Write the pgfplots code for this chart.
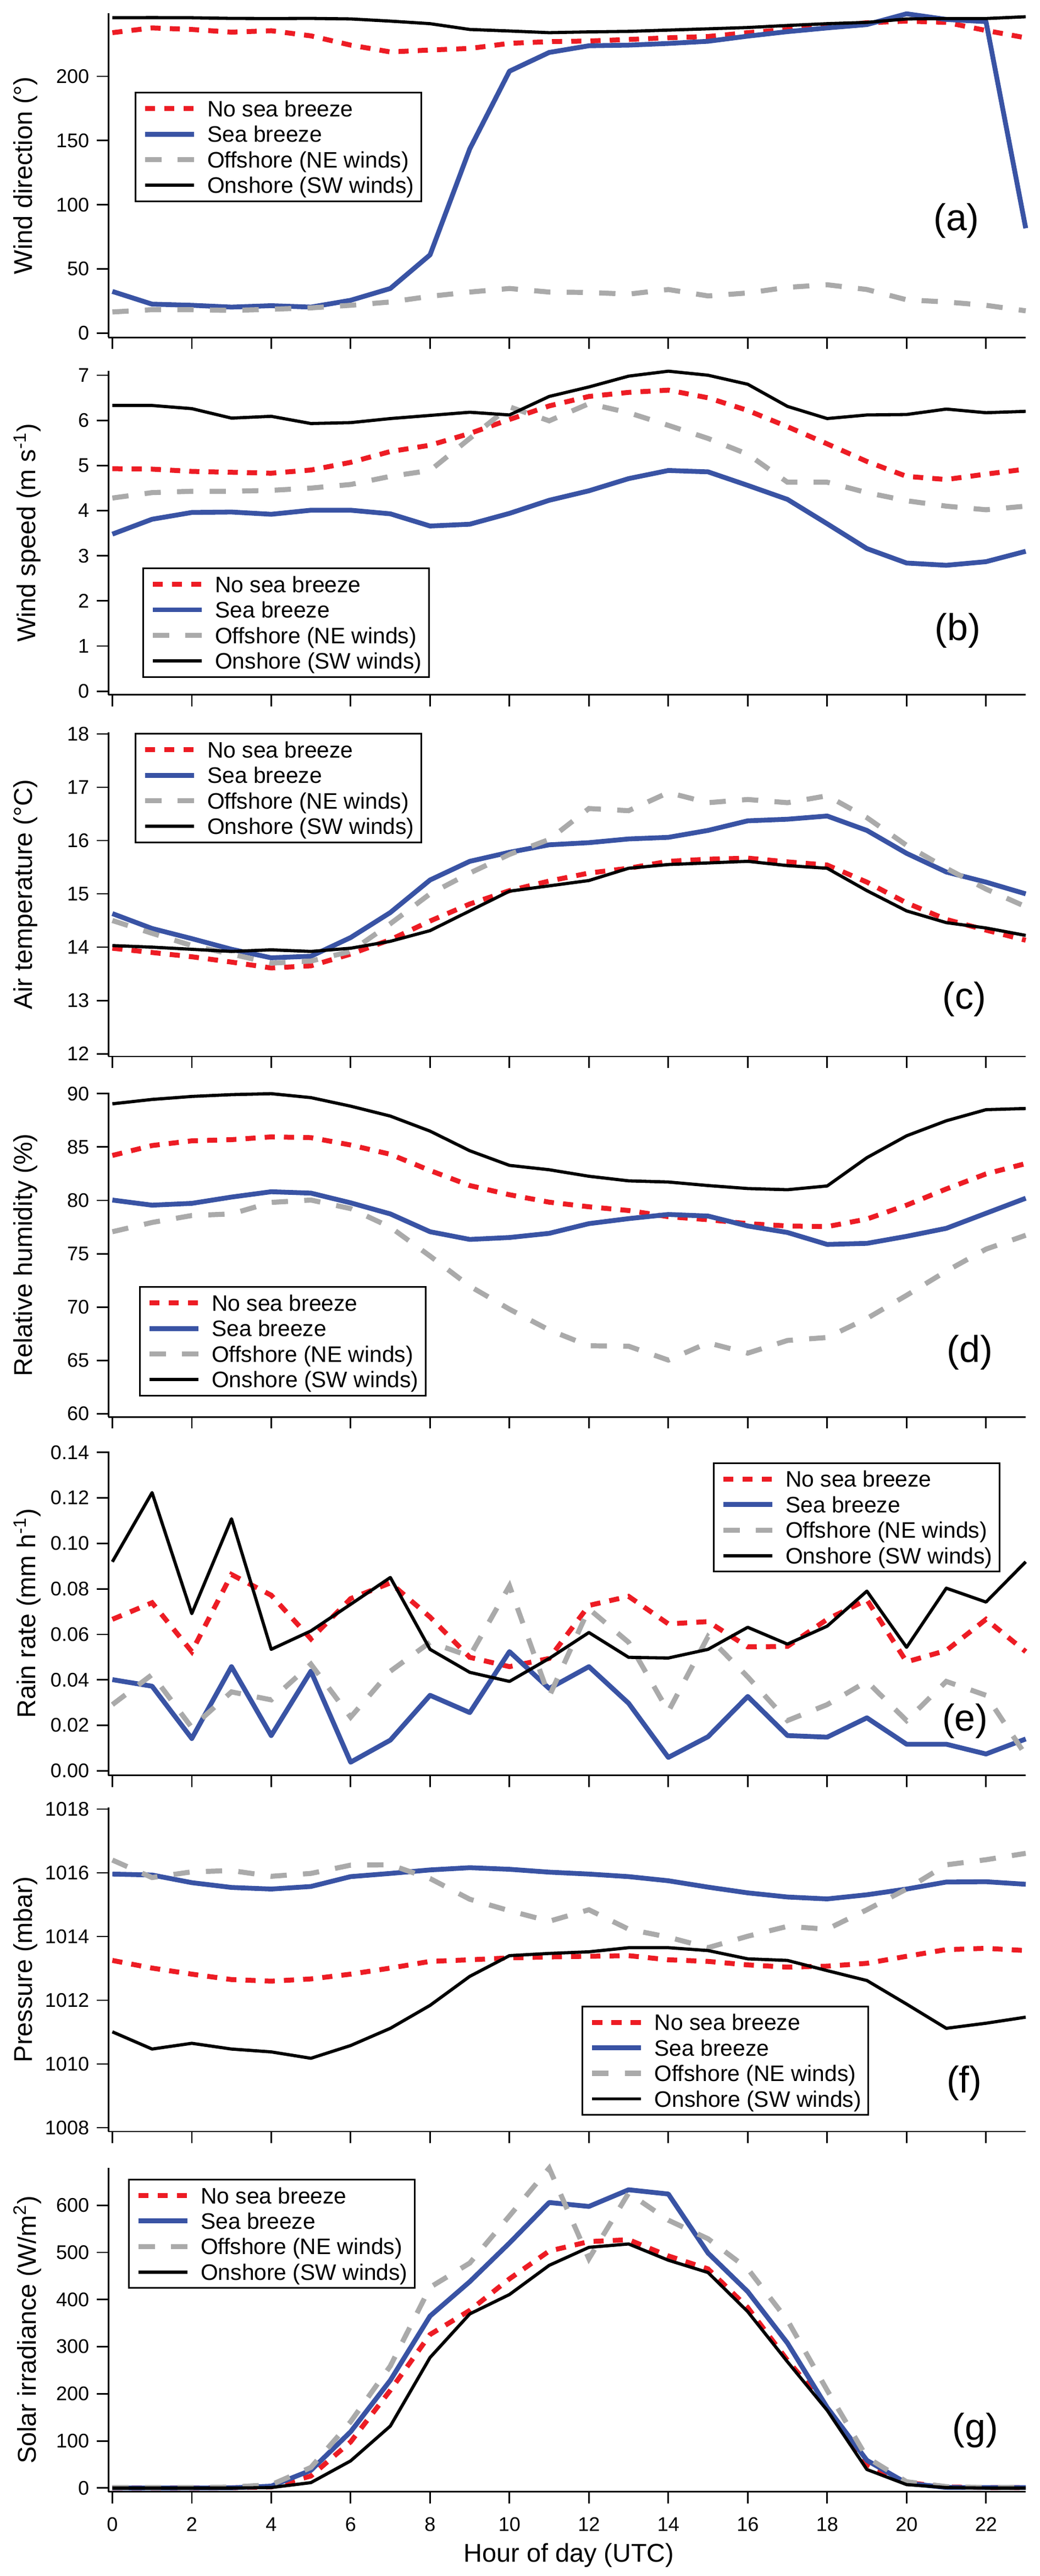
\documentclass[border=0pt]{standalone}
\usepackage{fontspec}
\setmainfont{Liberation Sans}
\usepackage{pgfplots}
\pgfplotsset{compat=1.18}
\usepackage{pgfplotstable}

\definecolor{nsbred}{RGB}{237,28,36}
\definecolor{sbblue}{RGB}{57,83,164}
\definecolor{offgray}{RGB}{170,170,170}

\newcommand\tickfont{\fontsize{9}{10}\selectfont}
\newcommand\labfont{\fontsize{11.7}{13}\selectfont}
\newcommand\legfont{\fontsize{10.2}{12}\selectfont}
\newcommand\panfont{\fontsize{17}{20}\selectfont}

\pgfplotstableread{
h nsb sb off on
0 234.0 32.5 16.5 245.6
1 237.7 22.6 18.3 245.7
2 236.5 21.7 18.3 245.6
3 234.4 20.3 17.7 245.1
4 235.5 21.4 18.6 245.0
5 231.5 20.3 19.7 245.1
6 224.3 25.6 21.7 244.7
7 219.0 34.8 24.3 243.0
8 220.5 61.0 28.7 241.0
9 221.7 143.5 32.0 236.5
10 225.7 204.0 34.8 235.3
11 227.0 218.6 32.0 234.0
12 227.5 223.8 31.7 234.6
13 228.7 224.3 30.4 235.0
14 230.0 225.6 34.0 236.0
15 231.0 227.3 29.0 237.0
16 234.0 231.3 31.3 238.0
17 236.5 234.8 35.7 239.6
18 239.0 237.7 37.7 241.0
19 241.7 240.3 34.0 242.0
20 243.0 248.7 26.0 244.7
21 242.0 244.3 24.3 245.0
22 235.7 242.6 21.7 245.0
23 230.0 81.7 17.4 246.4
}\tA

\pgfplotstableread{
h nsb sb off on
0 4.93 3.48 4.28 6.33
1 4.92 3.81 4.40 6.33
2 4.87 3.96 4.43 6.26
3 4.85 3.97 4.43 6.05
4 4.83 3.92 4.45 6.09
5 4.90 4.01 4.50 5.93
6 5.07 4.01 4.58 5.95
7 5.31 3.93 4.76 6.04
8 5.45 3.66 4.89 6.11
9 5.71 3.70 5.60 6.18
10 6.02 3.94 6.30 6.12
11 6.32 4.23 5.99 6.53
12 6.53 4.44 6.37 6.74
13 6.62 4.71 6.17 6.98
14 6.67 4.89 5.89 7.09
15 6.50 4.86 5.60 7.00
16 6.22 4.56 5.25 6.80
17 5.86 4.25 4.63 6.31
18 5.48 3.71 4.63 6.04
19 5.09 3.16 4.40 6.12
20 4.76 2.84 4.22 6.13
21 4.69 2.79 4.10 6.25
22 4.81 2.87 4.02 6.17
23 4.92 3.10 4.10 6.20
}\tB

\pgfplotstableread{
h nsb sb off on
0 13.98 14.63 14.50 14.03
1 13.90 14.35 14.26 14.00
2 13.82 14.16 14.03 13.96
3 13.72 13.96 13.87 13.92
4 13.61 13.80 13.70 13.95
5 13.65 13.83 13.74 13.92
6 13.87 14.18 13.92 13.98
7 14.14 14.65 14.44 14.11
8 14.49 15.26 15.00 14.31
9 14.81 15.61 15.39 14.68
10 15.06 15.78 15.74 15.05
11 15.24 15.92 16.02 15.15
12 15.39 15.96 16.60 15.25
13 15.48 16.03 16.56 15.48
14 15.61 16.06 16.90 15.55
15 15.65 16.19 16.71 15.58
16 15.67 16.37 16.77 15.61
17 15.60 16.40 16.71 15.53
18 15.54 16.46 16.84 15.48
19 15.22 16.19 16.43 15.06
20 14.83 15.76 15.91 14.68
21 14.52 15.41 15.48 14.46
22 14.32 15.22 15.09 14.36
23 14.13 15.00 14.76 14.22
}\tC

\pgfplotstableread{
h nsb sb off on
0 84.21 80.03 77.06 89.05
1 85.14 79.55 77.93 89.46
2 85.58 79.72 78.58 89.74
3 85.69 80.31 78.73 89.91
4 85.95 80.81 79.81 90.00
5 85.88 80.68 80.03 89.63
6 85.19 79.77 79.23 88.83
7 84.32 78.73 77.49 87.90
8 82.80 77.06 74.78 86.49
9 81.39 76.34 71.96 84.65
10 80.53 76.52 69.80 83.28
11 79.83 76.91 67.85 82.87
12 79.40 77.82 66.37 82.26
13 79.05 78.29 66.33 81.83
14 78.47 78.68 65.03 81.72
15 78.19 78.53 66.65 81.39
16 77.82 77.60 65.68 81.11
17 77.60 76.99 66.87 81.00
18 77.54 75.87 67.15 81.35
19 78.25 75.97 68.93 84.00
20 79.55 76.63 71.10 86.05
21 81.07 77.38 73.37 87.46
22 82.48 78.79 75.43 88.50
23 83.45 80.20 76.73 88.61
}\tD

\pgfplotstableread{
h nsb sb off on
0 0.0666 0.0401 0.0291 0.0919
1 0.0739 0.0372 0.0423 0.1223
2 0.0524 0.0142 0.0190 0.0691
3 0.0863 0.0458 0.0347 0.1108
4 0.0772 0.0155 0.0312 0.0534
5 0.0580 0.0438 0.0469 0.0615
6 0.0757 0.0038 0.0236 0.0732
7 0.0826 0.0135 0.0438 0.0850
8 0.0676 0.0332 0.0565 0.0534
9 0.0499 0.0256 0.0504 0.0433
10 0.0458 0.0524 0.0813 0.0393
11 0.0494 0.0362 0.0327 0.0494
12 0.0727 0.0458 0.0712 0.0608
13 0.0767 0.0297 0.0565 0.0499
14 0.0646 0.0059 0.0261 0.0496
15 0.0656 0.0150 0.0590 0.0534
16 0.0545 0.0327 0.0413 0.0631
17 0.0547 0.0155 0.0221 0.0557
18 0.0666 0.0148 0.0291 0.0636
19 0.0752 0.0233 0.0393 0.0790
20 0.0479 0.0117 0.0221 0.0543
21 0.0529 0.0117 0.0393 0.0803
22 0.0666 0.0074 0.0332 0.0742
23 0.0524 0.0140 0.0069 0.0919
}\tE

\pgfplotstableread{
h nsb sb off on
0 1013.25 1015.96 1016.40 1011.01
1 1013.01 1015.93 1015.85 1010.47
2 1012.82 1015.69 1016.03 1010.65
3 1012.65 1015.54 1016.07 1010.47
4 1012.60 1015.49 1015.89 1010.38
5 1012.67 1015.57 1015.98 1010.18
6 1012.82 1015.88 1016.24 1010.58
7 1013.01 1015.98 1016.25 1011.12
8 1013.22 1016.09 1015.82 1011.84
9 1013.27 1016.16 1015.17 1012.75
10 1013.33 1016.11 1014.81 1013.40
11 1013.36 1016.02 1014.48 1013.47
12 1013.38 1015.96 1014.84 1013.52
13 1013.40 1015.88 1014.23 1013.65
14 1013.27 1015.75 1013.98 1013.65
15 1013.22 1015.55 1013.65 1013.56
16 1013.11 1015.37 1014.01 1013.30
17 1013.04 1015.24 1014.32 1013.25
18 1013.07 1015.18 1014.23 1012.93
19 1013.16 1015.31 1014.84 1012.62
20 1013.38 1015.49 1015.49 1011.88
21 1013.59 1015.71 1016.25 1011.12
22 1013.63 1015.72 1016.41 1011.28
23 1013.56 1015.64 1016.61 1011.47
}\tF

\pgfplotstableread{
h nsb sb off on
0 0 0 1 0
1 0 0 1 0
2 0 0 1 0
3 0.5 0.5 2 0
4 2.4 4 7 1
5 25.5 37.6 43.7 11.5
6 98 119.5 140.8 57.6
7 207.5 228.7 259 131.6
8 325.8 365 426 277
9 377 438 477.5 369.5
10 444 520 577.6 410.7
11 503 606 678.9 472.6
12 523 597.6 486.6 510.8
13 527 633 626 518
14 492.6 624 568.5 483.5
15 465 498.7 529 457.4
16 383 416.8 465.3 374.3
17 271 307.6 356 268
18 171 171 207.5 165
19 49.7 58.8 65 39.4
20 11.5 10.3 13.3 7.3
21 2.4 1.2 3 1
22 1 1 1 0
23 1 1 1 0
}\tG

\pgfplotsset{
  /pgf/number format/assume math mode=true,
  /pgf/number format/1000 sep={},
  nsb/.style={color=nsbred, line width=2.25pt, dash pattern=on 4.6pt off 4.15pt},
  sb/.style={color=sbblue, line width=2.2pt, line join=round},
  off/.style={color=offgray, line width=2.3pt, dash pattern=on 7.4pt off 7.4pt},
  on/.style={color=black, line width=1.45pt, line join=round},
  panel/.style={
    scale only axis, width=417.2pt, height=147.5pt,
    xmin=-0.1, xmax=23, xtick={0,2,...,22},
    axis lines*=left, tick pos=left, tick align=outside,
    major tick length=5.25pt,
    every tick/.style={black, line width=0.7pt},
    axis line style={line width=0.7pt, black},
    ticklabel style={font=\tickfont},
    scaled y ticks=false,
    ylabel style={at={(axis description cs:-0.1037,0.5)}, anchor=north, inner sep=0pt, font=\labfont},
    clip=false,
    anchor=north west,
    legend cell align=left,
    legend style={draw=black, line width=0.75pt, font=\legfont, inner xsep=3.25pt, inner ysep=1.5pt,
      anchor=north west, cells={anchor=west},
      /tikz/every odd column/.append style={column sep=4.9pt},
      nodes={inner xsep=0pt, inner ysep=0.85pt, text height=8.6pt, text depth=1.3pt}},
    legend image code/.code={\draw[##1] (0pt,0pt) -- (22.25pt,0pt);},
  },
}

\newcommand\fourplots[1]{%
  \addplot[nsb] table[x=h,y=nsb]{#1};
  \addplot[sb] table[x=h,y=sb]{#1};
  \addplot[off] table[x=h,y=off]{#1};
  \addplot[on] table[x=h,y=on]{#1};
  \legend{No sea breeze,Sea breeze,Offshore (NE winds),Onshore (SW winds)}%
}

\begin{document}
\begin{tikzpicture}
% (a)
\begin{axis}[panel, at={(49.3pt,-6.1pt)},
  ymin=-3.4, ymax=249, ytick={0,50,...,200}, xticklabels={},
  ylabel={Wind direction (°)},
  legend style={at={(axis description cs:0.0286,0.758)}}]
\fourplots{\tA}
\node[font=\panfont] at (axis description cs:0.9245,0.36) {(a)};
\end{axis}
% (b)
\begin{axis}[panel, at={(49.3pt,-168.7pt)},
  ymin=-0.08, ymax=7.1, ytick={0,1,...,7}, xticklabels={},
  ylabel={Wind speed (m s\textsuperscript{-1})},
  legend style={at={(axis description cs:0.037,0.393)}}]
\fourplots{\tB}
\node[font=\panfont] at (axis description cs:0.926,0.198) {(b)};
\end{axis}
% (c)
\begin{axis}[panel, at={(49.3pt,-333.25pt)},
  ymin=11.95, ymax=18.03, ytick={12,13,...,18}, xticklabels={},
  ylabel={Air temperature (°C)},
  legend style={at={(axis description cs:0.0286,0.998)}}]
\fourplots{\tC}
\node[font=\panfont] at (axis description cs:0.933,0.177) {(c)};
\end{axis}
% (d)
\begin{axis}[panel, at={(49.3pt,-497.35pt)},
  ymin=59.69, ymax=90.07, ytick={60,65,...,90}, xticklabels={},
  ylabel={Relative humidity (\%)},
  legend style={at={(axis description cs:0.0334,0.404)}}]
\fourplots{\tD}
\node[font=\panfont] at (axis description cs:0.939,0.199) {(d)};
\end{axis}
% (e)
\begin{axis}[panel, at={(49.3pt,-660.4pt)},
  ymin=-0.002, ymax=0.1405, ytick={0,0.02,0.04,0.06,0.08,0.10,0.12,0.14}, xticklabels={},
  yticklabel style={/pgf/number format/fixed, /pgf/number format/fixed zerofill, /pgf/number format/precision=2},
  ylabel={Rain rate (mm h\textsuperscript{-1})},
  legend style={at={(axis description cs:0.659,0.966)}}]
\fourplots{\tE}
\node[font=\panfont] at (axis description cs:0.934,0.168) {(e)};
\end{axis}
% (f)
\begin{axis}[panel, at={(49.3pt,-822.5pt)},
  ymin=1007.88, ymax=1018.05, ytick={1008,1010,...,1018}, xticklabels={},
  ylabel={Pressure (mbar)},
  legend style={at={(axis description cs:0.516,0.389)}}]
\fourplots{\tF}
\node[font=\panfont] at (axis description cs:0.933,0.149) {(f)};
\end{axis}
% (g)
\begin{axis}[panel, at={(49.3pt,-986.4pt)},
  ymin=-7.9, ymax=680, ytick={0,100,...,600},
  xticklabel style={yshift=-2.9pt},
  ylabel={Solar irradiance (W/m\textsuperscript{2})},
  xlabel={Hour of day (UTC)},
  xlabel style={at={(axis description cs:0.502,-0.217)}, anchor=base, font=\labfont},
  legend style={at={(axis description cs:0.0214,0.966)}}]
\fourplots{\tG}
\node[font=\panfont] at (axis description cs:0.945,0.19) {(g)};
\end{axis}
\pgfresetboundingbox
\path[use as bounding box] (0pt,0pt) rectangle (473pt,-1172.25pt);
\end{tikzpicture}
\end{document}
